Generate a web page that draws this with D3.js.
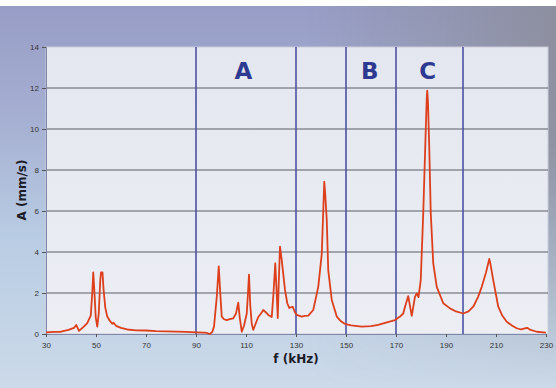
<!DOCTYPE html>
<html>
<head>
<meta charset="utf-8">
<script src="https://cdn.jsdelivr.net/npm/d3@7"></script>
<style>
  body { margin: 0; padding: 0; background: #fff; }
  svg { display: block; }
</style>
</head>
<body>
<div id="chart"></div>
<script>
// spectrum
var freq = [30, 33, 36, 39, 41.2, 42.1, 43.2, 45, 46.5, 47.9, 48.5, 48.9, 49.3, 49.9, 50.5, 51.1, 51.7, 52.0, 52.6, 53.0,
  53.7, 54.5, 55.5, 56.5, 57, 58, 60, 62.5, 66, 70, 74, 78, 82, 86, 90, 93, 94.5, 95.6, 96.5, 97.2,
  98.3, 99.1, 99.6, 100.3, 101.2, 102.3, 103.5, 104.9, 106, 106.9, 107.5, 108.3, 109.2, 110.3, 110.8, 111.2, 111.7, 112.3, 112.9, 114,
  114.9, 116, 116.9, 118, 118.9, 120.3, 121.0, 121.7, 122.2, 122.7, 123.1, 123.6, 124.3, 125.6, 126.5, 127.3, 128.7, 129.6, 130.3, 132.3,
  133.5, 134.9, 136.9, 138.9, 140.3, 140.9, 141.3, 141.7, 142.3, 142.9, 144.3, 146.3, 148, 149.6, 152, 156.3, 160, 162.9, 166, 169.6,
  171.6, 172.9, 173.6, 174.9, 176.3, 177.6, 178.3, 179, 179.9, 180.9, 181.9, 182.3, 182.5, 182.8, 183.3, 183.9, 184.9, 186.3, 188.9, 191.6,
  194, 196.9, 199, 200.9, 202.8, 204.3, 206, 207.3, 207.8, 208.9, 210.9, 212.5, 214.3, 216.5, 218.3, 220, 221.5, 222.5, 223.8, 226.3,
  228, 230];
var amp = [0.08, 0.1, 0.11, 0.2, 0.3, 0.44, 0.15, 0.35, 0.53, 0.9, 2.0, 3.0, 2.2, 0.8, 0.36, 1.0, 2.6, 3.0, 3.0, 2.2,
  1.3, 0.85, 0.65, 0.5, 0.55, 0.4, 0.3, 0.22, 0.18, 0.17, 0.14, 0.13, 0.12, 0.1, 0.08, 0.07, 0.05, 0.0, 0.1, 0.36,
  1.8, 3.3, 2.2, 0.85, 0.72, 0.68, 0.72, 0.76, 1.0, 1.53, 0.8, 0.11, 0.4, 1.0, 2.0, 2.9, 1.4, 0.5, 0.2, 0.55,
  0.83, 1.0, 1.17, 1.05, 0.93, 0.83, 2.0, 3.45, 2.2, 0.78, 2.5, 4.26, 3.6, 2.15, 1.5, 1.27, 1.33, 1.05, 0.93, 0.85,
  0.88, 0.9, 1.17, 2.3, 3.9, 6.0, 7.43, 6.8, 5.56, 3.1, 1.66, 0.85, 0.62, 0.49, 0.42, 0.36, 0.38, 0.44, 0.55, 0.68,
  0.85, 1.0, 1.33, 1.85, 0.88, 1.82, 1.98, 1.8, 2.63, 5.9, 9.95, 11.5, 11.87, 11.3, 9.1, 5.9, 3.45, 2.3, 1.5, 1.25,
  1.1, 1.0, 1.1, 1.33, 1.8, 2.3, 3.0, 3.66, 3.4, 2.63, 1.33, 0.9, 0.6, 0.4, 0.28, 0.22, 0.27, 0.3, 0.2, 0.11,
  0.09, 0.07];
var xTicks = [30, 50, 70, 90, 110, 130, 150, 170, 190, 210, 230];
var yTicks = [0, 2, 4, 6, 8, 10, 12, 14];
var zoneLines = [90, 130, 150, 170, 196.8];
var zoneNames = ["A", "B", "C"];
var zoneCenters = [109, 159.5, 182.7];

var W = 556, H = 388;

var svg = d3.select("#chart").append("svg")
  .attr("width", W)
  .attr("height", H);

var defs = svg.append("defs");
var bg = defs.append("linearGradient").attr("id", "bg")
  .attr("x1", 0).attr("y1", 0).attr("x2", 0).attr("y2", 1);
bg.append("stop").attr("offset", "0%").attr("stop-color", "#979dc6");
bg.append("stop").attr("offset", "30%").attr("stop-color", "#a6b0d2");
bg.append("stop").attr("offset", "60%").attr("stop-color", "#b8cce3");
bg.append("stop").attr("offset", "100%").attr("stop-color", "#ccdae9");
var tint = defs.append("linearGradient").attr("id", "tint")
  .attr("x1", 0).attr("y1", 0).attr("x2", 1).attr("y2", 0);
tint.append("stop").attr("offset", "0%").attr("stop-color", "#8d8f9e").attr("stop-opacity", 0);
tint.append("stop").attr("offset", "55%").attr("stop-color", "#8d8f9e").attr("stop-opacity", 0);
tint.append("stop").attr("offset", "100%").attr("stop-color", "#8a8c98").attr("stop-opacity", 0.85);
var fade = defs.append("linearGradient").attr("id", "fade")
  .attr("x1", 0).attr("y1", 0).attr("x2", 0).attr("y2", 1);
fade.append("stop").attr("offset", "0%").attr("stop-color", "#fff");
fade.append("stop").attr("offset", "35%").attr("stop-color", "#fff");
fade.append("stop").attr("offset", "100%").attr("stop-color", "#000");
defs.append("mask").attr("id", "fademask")
  .append("rect").attr("x", 0).attr("y", 0).attr("width", W).attr("height", H)
  .attr("fill", "url(#fade)");
var plotBg = defs.append("linearGradient").attr("id", "plotbg")
  .attr("x1", 0).attr("y1", 0).attr("x2", 0).attr("y2", 1);
plotBg.append("stop").attr("offset", "0%").attr("stop-color", "#e5e7f0");
plotBg.append("stop").attr("offset", "100%").attr("stop-color", "#eceef4");

svg.append("rect").attr("x", 0).attr("y", 6).attr("width", W).attr("height", H - 6)
  .attr("fill", "url(#bg)");
svg.append("rect").attr("x", 0).attr("y", 6).attr("width", W).attr("height", H - 6)
  .attr("fill", "url(#tint)")
  .attr("mask", "url(#fademask)");

var x = d3.scaleLinear().domain([30, 230]).range([46, 546]);
var y = d3.scaleLinear().domain([0, 14]).range([334, 47]);

svg.append("rect")
  .attr("x", x(30)).attr("y", y(14))
  .attr("width", 548 - x(30)).attr("height", y(0) - y(14))
  .attr("fill", "url(#plotbg)")
  .attr("stroke", "#c9ccd8").attr("stroke-width", 1);

// horizontal grid
svg.append("g").selectAll("line")
  .data(yTicks.filter(function(d) { return d > 0 && d < 14; }))
  .enter().append("line")
    .attr("x1", x(30)).attr("x2", 548)
    .attr("y1", function(d) { return y(d); })
    .attr("y2", function(d) { return y(d); })
    .attr("stroke", "#5a5c66").attr("stroke-width", 1);

// zone separators
svg.append("g").selectAll("line")
  .data(zoneLines)
  .enter().append("line")
    .attr("x1", function(d) { return x(d); })
    .attr("x2", function(d) { return x(d); })
    .attr("y1", y(14)).attr("y2", y(0))
    .attr("stroke", "#4b52a3").attr("stroke-width", 1.6);

svg.append("g").selectAll("text")
  .data(zoneNames)
  .enter().append("text")
    .attr("x", function(d, i) { return x(zoneCenters[i]); })
    .attr("y", 79)
    .attr("text-anchor", "middle")
    .style("font-family", "'DejaVu Sans', Verdana, sans-serif")
    .style("font-weight", "bold")
    .style("font-size", "23px")
    .attr("fill", "#2e3991")
    .text(function(d) { return d; });

// axes
var yAxis = svg.append("g")
  .attr("transform", "translate(" + x(30) + ",0)")
  .call(d3.axisLeft(y).tickValues(yTicks).tickSize(4).tickPadding(3));
var xAxis = svg.append("g")
  .attr("transform", "translate(0," + y(0) + ")")
  .call(d3.axisBottom(x).tickValues(xTicks).tickSize(3).tickPadding(5));
[xAxis, yAxis].forEach(function(a) {
  a.select(".domain").attr("stroke", "#7f88a8");
  a.selectAll(".tick line").attr("stroke", "#555");
  a.selectAll("text")
    .style("font-family", "'Liberation Sans Narrow', 'Liberation Sans', Arial, sans-serif")
    .style("font-size", "8px")
    .attr("fill", "#333");
});

var line = d3.line()
  .x(function(d, i) { return x(freq[i]); })
  .y(function(d) { return y(d); });

svg.append("path")
  .datum(amp)
  .attr("d", line)
  .attr("fill", "none")
  .attr("stroke", "#dd3f1c")
  .attr("stroke-width", 1.8)
  .attr("stroke-linejoin", "round");

svg.append("text")
  .attr("x", 296).attr("y", 363)
  .attr("text-anchor", "middle")
  .style("font-family", "'DejaVu Sans', Verdana, sans-serif")
  .style("font-weight", "bold")
  .style("font-size", "12px")
  .attr("fill", "#1c1c28")
  .text("f (kHz)");

svg.append("text")
  .attr("transform", "translate(26,190)rotate(-90)")
  .attr("text-anchor", "middle")
  .style("font-family", "'DejaVu Sans', Verdana, sans-serif")
  .style("font-weight", "bold")
  .style("font-size", "12px")
  .attr("fill", "#1c1c28")
  .text("A (mm/s)");
</script>
</body>
</html>
